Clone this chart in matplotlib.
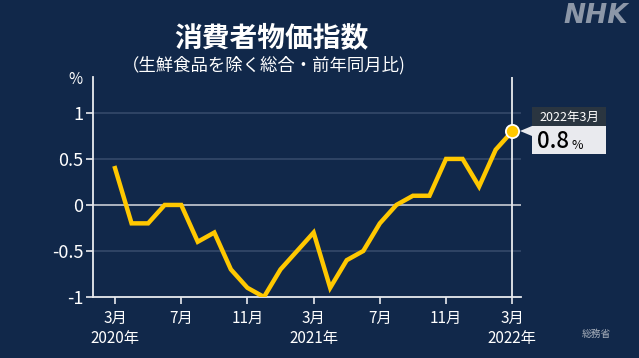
import matplotlib
matplotlib.use("Agg")
import matplotlib.pyplot as plt
from matplotlib.patches import Rectangle, Polygon

plt.rcParams['font.family'] = ['Noto Sans CJK JP', 'DejaVu Sans']

# monthly core CPI (ex fresh food), YoY %, Mar 2020 - Mar 2022
months = list(range(25))
values = [0.4, -0.2, -0.2, 0.0, 0.0, -0.4, -0.3, -0.7, -0.9, -1.0,
          -0.7, -0.5, -0.3, -0.9, -0.6, -0.5, -0.2, 0.0, 0.1, 0.1,
          0.5, 0.5, 0.2, 0.6, 0.8]
tick_pos = [0, 4, 8, 12, 16, 20, 24]
tick_labels = ['3月\n2020年', '7月', '11月', '3月\n2021年', '7月', '11月', '3月\n2022年']
y_ticks = [-1, -0.5, 0, 0.5, 1]
y_labels = ['-1', '-0.5', '0', '0.5', '1']
last_label = '2022年3月'
last_value = '0.8'

bg = '#11284a'
W, H = 639, 358
fig = plt.figure(figsize=(W / 100, H / 100), dpi=100, facecolor=bg)
ax = fig.add_axes([93 / W, 1 - 297 / H, (521 - 93) / W, (297 - 77) / H])
ax.set_facecolor(bg)

ax.set_xlim(-1.33, 24.53)
ax.set_ylim(-1, 1.39)

for y in y_ticks:
    if y == 0:
        ax.axhline(y, color='#c8ccd4', lw=1.2, zorder=1)
    elif y != -1:
        ax.axhline(y, color='#34496a', lw=1.2, zorder=1)

ax.axvline(24, color='#e8eaee', lw=1.3, zorder=1)
ax.plot(months, values, color='#ffc800', lw=3.2, solid_joinstyle='miter', zorder=3)
ax.plot(months[-1], values[-1], 'o', ms=9.5, mfc='#ffc800', mec='white', mew=1.3, zorder=4)

for s in ['top', 'right']:
    ax.spines[s].set_visible(False)
for s in ['left', 'bottom']:
    ax.spines[s].set_color('#e8eaee')
    ax.spines[s].set_linewidth(1.3)

ax.set_yticks(y_ticks)
ax.set_yticklabels(y_labels)
ax.set_xticks(tick_pos)
ax.set_xticklabels(tick_labels, linespacing=1.25)
ax.tick_params(axis='y', colors='#e8eaee', labelcolor='white', labelsize=13, length=5, width=1.2, pad=2)
ax.tick_params(axis='x', colors='#e8eaee', labelcolor='white', labelsize=11, length=5, width=1.2, pad=4)

# titles
fig.text(271 / W, 1 - 38 / H, '消費者物価指数', color='white', fontsize=20, fontweight='bold',
         ha='center', va='center')
fig.text(264 / W, 1 - 65 / H, '（生鮮食品を除く総合・前年同月比)', color='white', fontsize=12.5,
         ha='center', va='center')
fig.text(75 / W, 1 - 80 / H, '%', color='white', fontsize=11, ha='center', va='center')
fig.text(628 / W, 1 - 16 / H, 'NHK', color='#8c97a8', fontsize=19, fontweight='bold',
         fontstyle='italic', family='DejaVu Sans', ha='right', va='center')
fig.text(596 / W, 1 - 334 / H, '総務省', color='#a8b0bc', fontsize=7, ha='center', va='center')

# callout
fig.patches.append(Rectangle((532 / W, 1 - 126 / H), 74 / W, 19 / H, transform=fig.transFigure,
                             facecolor='#2a3540', edgecolor='none'))
fig.patches.append(Rectangle((532 / W, 1 - 154 / H), 74 / W, 28 / H, transform=fig.transFigure,
                             facecolor='#e9eaee', edgecolor='none'))
fig.patches.append(Polygon([(520 / W, 1 - 131 / H), (532 / W, 1 - 126 / H), (532 / W, 1 - 136 / H)],
                           closed=True, transform=fig.transFigure, facecolor='#e9eaee', edgecolor='none'))
fig.text(569 / W, 1 - 117 / H, last_label, color='white', fontsize=9, ha='center', va='center')
fig.text(537 / W, 1 - 142 / H, last_value, color='black', fontsize=16, fontweight='medium',
         ha='left', va='center')
fig.text(571 / W, 1 - 145 / H, '%', color='black', fontsize=9, ha='left', va='center')

fig.savefig('out.png', dpi=100, facecolor=bg)
